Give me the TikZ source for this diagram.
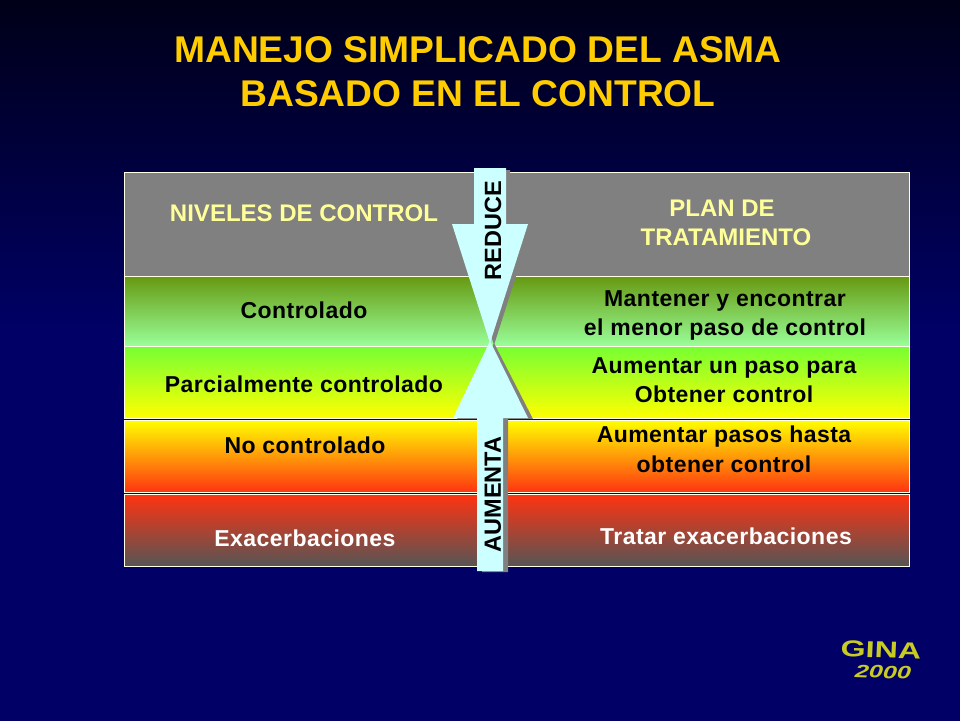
\documentclass[tikz,border=0pt]{standalone}
\usepackage{fontspec}
\setmainfont{Liberation Sans}
\usepackage{xcolor}
\usetikzlibrary{positioning}
\definecolor{navyTop}{HTML}{000018}
\definecolor{navyBot}{HTML}{000066}
\definecolor{titleYel}{HTML}{FFCC00}
\definecolor{headYel}{HTML}{FFFF99}
\definecolor{arrowCyan}{HTML}{CCFFFF}
\definecolor{arrowGrey}{HTML}{808080}
\definecolor{bandGrey}{HTML}{808080}
\definecolor{ctrlTop}{HTML}{669911}
\definecolor{ctrlBot}{HTML}{99FF99}
\definecolor{partTop}{HTML}{77FF33}
\definecolor{partMid}{HTML}{C4FF16}
\definecolor{noneMid}{HTML}{FFBB00}
\definecolor{redTop}{HTML}{FF3311}
\definecolor{redMid}{HTML}{D93B22}
\definecolor{greyBot}{HTML}{555555}
\definecolor{ginaYel}{HTML}{C8CC22}
\pgfdeclareverticalshading{slideBg}{100bp}{color(0bp)=(navyBot); color(52bp)=(navyBot); color(75bp)=(navyTop); color(100bp)=(navyTop)}
\tikzset{%
  BandStyle/.style={draw=white!90!yellow,line width=0.6pt,anchor=north west,inner sep=0pt,minimum width=784.5pt},
  LabelStyle/.style={font=\fontsize{23}{26}\selectfont\bfseries\addfontfeature{LetterSpace=2},text=black,inner sep=0pt},
  HeadStyle/.style={font=\fontsize{24}{26}\selectfont\bfseries,text=headYel,inner sep=0pt},
  TitleStyle/.style={font=\fontsize{37.2}{40}\selectfont\bfseries,text=titleYel,inner sep=0pt},
  ArrowText/.style={font=\fontsize{23.5}{26}\selectfont\bfseries,text=black,rotate=90,inner sep=0pt},
  GinaStyle/.style={text=ginaYel,inner sep=0pt}
}
\begin{document}
\begin{tikzpicture}[x=1pt,y=-1pt]
  \useasboundingbox (0,0) rectangle (960,720);
  \shade[shading=slideBg] (0,0) rectangle (960,720);
  % title
  \node[TitleStyle] (title1) at (478,50) {MANEJO SIMPLICADO DEL ASMA};
  \node[TitleStyle] (title2) at (478,94) {BASADO EN EL CONTROL};
  % bands
  \node[BandStyle,fill=bandGrey,minimum height=104pt] (head) at (124,172) {};
  \node[BandStyle,minimum height=70pt,top color=ctrlTop,bottom color=ctrlBot] (ctrl) at (124,276) {};
  \node[BandStyle,minimum height=72pt,top color=partTop,middle color=partMid,bottom color=yellow] (part) at (124,346) {};
  \node[BandStyle,minimum height=72pt,top color=yellow,middle color=noneMid,bottom color=redTop] (none) at (124,420) {};
  \node[BandStyle,minimum height=72pt,top color=redTop,middle color=redMid,bottom color=greyBot] (exac) at (124,494) {};
  % headings
  \node[HeadStyle] (niveles) at (304,213) {NIVELES DE CONTROL};
  \node[HeadStyle] (plan) at (722,208) {PLAN DE};
  \node[HeadStyle] (trata) at (726,237) {TRATAMIENTO};
  % rows
  \foreach \name/\tx/\ty/\txt in {
    controlado/304/310/Controlado,
    parcial/304/384/Parcialmente controlado,
    nocontrol/305/445/No controlado,
    mantener/725/301/Mantener y encontrar,
    menor/725/330/el menor paso de control,
    aumentar/724/368/Aumentar un paso para,
    obtener/724/394/Obtener control,
    pasos/724/437/Aumentar pasos hasta,
    obtenerb/724/464/obtener control
  }{ \node[LabelStyle] (\name) at (\tx,\ty) {\txt};}
  \node[LabelStyle,text=white] (exacerb) at (305,538) {Exacerbaciones};
  \node[LabelStyle,text=white] (tratar) at (726,536) {Tratar exacerbaciones};
  % arrows
  \fill[arrowGrey] (478,170) -- (510,170) -- (510,226) -- (532,226) -- (494,345) -- (456,226) -- (478,226) -- cycle;
  \fill[arrowGrey] (494,343) -- (533,419) -- (508,419) -- (508,572) -- (482,572) -- (482,419) -- (457,419) -- cycle;
  \fill[arrowCyan] (474,168) -- (506,168) -- (506,224) -- (528,224) -- (490,343) -- (452,224) -- (474,224) -- cycle;
  \fill[arrowCyan] (490,341) -- (528,418) -- (503,418) -- (503,571) -- (477,571) -- (477,418) -- (453,418) -- cycle;
  \node[ArrowText] (reduce) at (493,230.5) {REDUCE};
  \node[ArrowText] (aumenta) at (493,494.5) {AUMENTA};
  % logo
  \node[GinaStyle,font=\fontsize{23}{23}\selectfont\bfseries,xscale=1.4,rotate=-2] (gina) at (881,650) {GINA};
  \node[GinaStyle,font=\fontsize{18}{18}\selectfont\bfseries\itshape,xscale=1.4,rotate=-3] (year) at (883,672) {2000};
\end{tikzpicture}
\end{document}
